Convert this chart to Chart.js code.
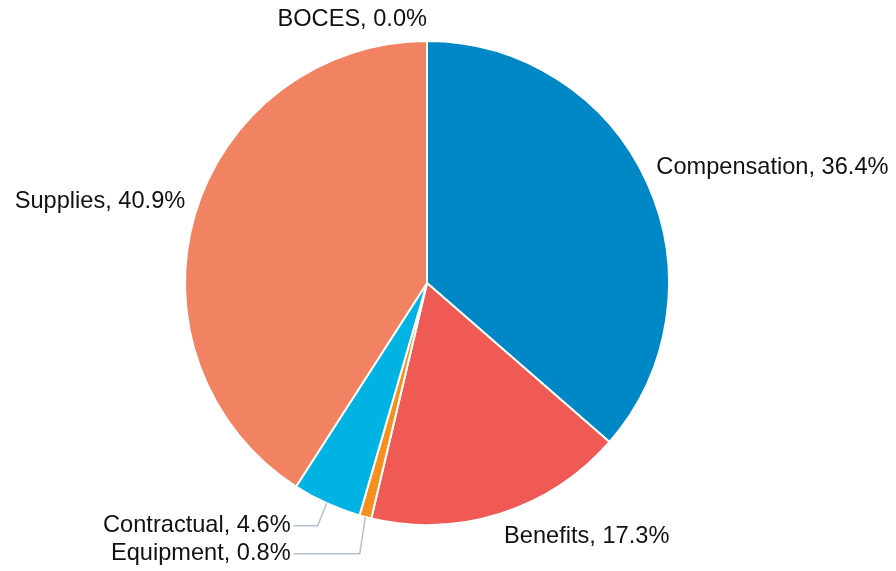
<!DOCTYPE html>
<html>
<head>
<meta charset="utf-8">
<script src="https://cdn.jsdelivr.net/npm/chart.js@4.4.0/dist/chart.umd.min.js"></script>
<style>
  html, body { margin: 0; padding: 0; background: #fff; }
  #wrap { width: 896px; height: 571px; }
</style>
</head>
<body>
<div id="wrap"><canvas id="myChart"></canvas></div>
<script>
// slices, clockwise from 12 o'clock
var categories = ["Compensation", "Benefits", "Equipment", "Contractual", "Supplies", "BOCES"];
var shares = [36.4, 17.3, 0.8, 4.6, 40.9, 0.0];
var colors = ["#0088c6", "#f05a55", "#f5901f", "#00b3e3", "#f18262", "#7f7f7f"];

var FONT = '23.6px "Liberation Sans", Arial, sans-serif';

// draws "Name, x.x%" next to each slice, small ones get a connector line
var pieLabels = {
  id: 'pieLabels',
  afterDraw: function(chart) {
    var ctx = chart.ctx;
    var arcs = chart.getDatasetMeta(0).data;
    ctx.save();
    ctx.font = FONT;
    ctx.fillStyle = '#111';
    ctx.textBaseline = 'middle';

    var small = [];
    arcs.forEach(function(arc, i) {
      var p = arc.getProps(['x', 'y', 'startAngle', 'endAngle', 'outerRadius'], true);
      var mid = (p.startAngle + p.endAngle) / 2;
      var c = Math.cos(mid), s = Math.sin(mid);
      var text = categories[i] + ', ' + shares[i].toFixed(1) + '%';
      var shift = s > 0 ? 9 : -9;
      if (shares[i] > 0 && shares[i] < 5) {
        small.push({ text: text, c: c, s: s, p: p,
          ex: p.x + (p.outerRadius + 22) * c,
          y: p.y + (p.outerRadius + 22) * s + shift });
        return;
      }
      var x = p.x + (p.outerRadius + 10) * c;
      var y = p.y + (p.outerRadius + 15) * s + shift;
      if (shares[i] === 0) y = p.y + (p.outerRadius + 15) * s - 7;
      ctx.textAlign = (c > 0.01) ? 'left' : 'right';
      ctx.fillText(text, x, y);
    });

    // spread connector labels apart
    small.sort(function(a, b) { return a.y - b.y; });
    for (var k = 1; k < small.length; k++) {
      var gap = small[k].y - small[k - 1].y;
      if (gap < 28) {
        var push = (28 - gap) / 2;
        small[k - 1].y -= push;
        small[k].y += push;
      }
    }
    var lx = Math.min.apply(null, small.map(function(o) { return o.ex; })) - 27;
    small.forEach(function(o) {
      var r = o.p.outerRadius;
      ctx.strokeStyle = '#b4c0cf';
      ctx.lineWidth = 1.5;
      ctx.beginPath();
      ctx.moveTo(o.p.x + r * o.c, o.p.y + r * o.s);
      ctx.lineTo(o.ex, o.y);
      ctx.lineTo(lx + 3, o.y);
      ctx.stroke();
      ctx.textAlign = 'right';
      ctx.fillText(o.text, lx, o.y);
    });
    ctx.restore();
  }
};

var ctx = document.getElementById("myChart").getContext("2d");
var myChart = new Chart(ctx, {
  type: 'pie',
  data: {
    labels: categories,
    datasets: [{
      data: shares,
      backgroundColor: colors,
      borderColor: '#ffffff',
      borderWidth: 2
    }]
  },
  options: {
    responsive: true,
    maintainAspectRatio: false,
    animation: false,
    layout: { padding: { left: 100, right: 142, top: 40, bottom: 45 } },
    plugins: {
      legend: { display: false },
      tooltip: { enabled: false }
    }
  },
  plugins: [pieLabels]
});
</script>
</body>
</html>
